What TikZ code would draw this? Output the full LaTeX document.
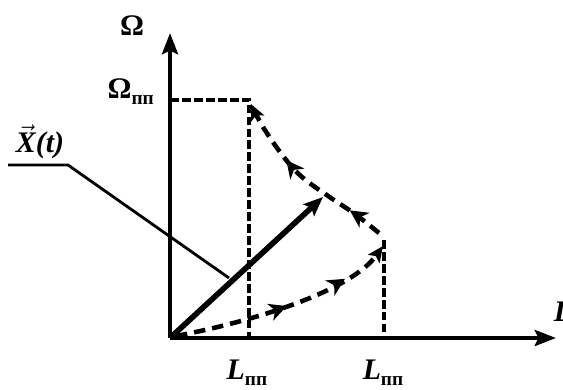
\documentclass[tikz,border=0pt]{standalone}
\usepackage{fontspec}
\setmainfont{Liberation Serif}
\usetikzlibrary{arrows.meta,decorations.markings}
\newcommand{\sbs}[1]{\raisebox{-0.45ex}{\fontsize{11}{12}\selectfont #1}}

\begin{document}
\begin{tikzpicture}[
  x=0.02cm, y=-0.02cm,
  font=\fontsize{17}{20}\selectfont\bfseries,
  axis/.style={line width=2.6pt, -{Stealth[length=12pt, width=9pt, inset=2pt]}},
  vect/.style={line width=3.2pt, -{Stealth[length=11pt, width=9pt, inset=2pt]}},
  guide/.style={line width=2.1pt, dash pattern=on 5pt off 1.8pt},
  traj/.style={line width=2.6pt, dash pattern=on 6.5pt off 4pt,
               -{Stealth[length=9pt, width=8pt, inset=2pt]}},
  lead/.style={line width=1.6pt},
  midarrows/.style 2 args={postaction={decorate}, decoration={markings,
      mark=at position #1 with {\arrow{Stealth[length=10pt, width=10pt, inset=3pt]}},
      mark=at position #2 with {\arrow{Stealth[length=10pt, width=10pt, inset=3pt]}}}}]
\useasboundingbox (0,0) rectangle (563,389);
% axes
\coordinate (O) at (170,338);
\coordinate (ytop) at (170,33);
\coordinate (xend) at (556,338);
\draw[axis] (O) -- (ytop);
\draw[axis] (O) -- (xend);
\node (om) at (132,26) {Ω};
\node (lx) at (563,312) {\itshape L};
% limits
\coordinate (omp) at (170,100);
\coordinate (cp) at (249,100);
\coordinate (l1) at (249,338);
\coordinate (c2) at (384,240);
\coordinate (l2) at (384,338);
\draw[guide] (omp) -- (cp) -- (l1);
\draw[guide] (c2) -- (l2);
\node[anchor=east] (omlab) at (160,92) {Ω\sbs{пп}};
\node (ll1) at (247,373) {\itshape L\sbs{\upshape пп}};
\node (ll2) at (383,373) {\itshape L\sbs{\upshape пп}};
% state vector
\coordinate (xt) at (323,197);
\draw[vect] (O) -- (xt);
\node (xlab) at (40,142) {$\vec{\textit{X}}$\textit{(t)}};
\coordinate (kn) at (68,165);
\coordinate (hit) at (229,278);
\draw[lead] (8,165) -- (kn) -- (hit);
% trajectory
\draw[traj, midarrows={0.5}{0.78}] (176,336) .. controls (250,322) and (350,292) .. (383,246);
\draw[traj, midarrows={0.2}{0.64}] plot[smooth, tension=0.6] coordinates
  {(379,233) (355,214) (331,198) (302,177) (283,156) (263,127) (251,104)};
\end{tikzpicture}
\end{document}
